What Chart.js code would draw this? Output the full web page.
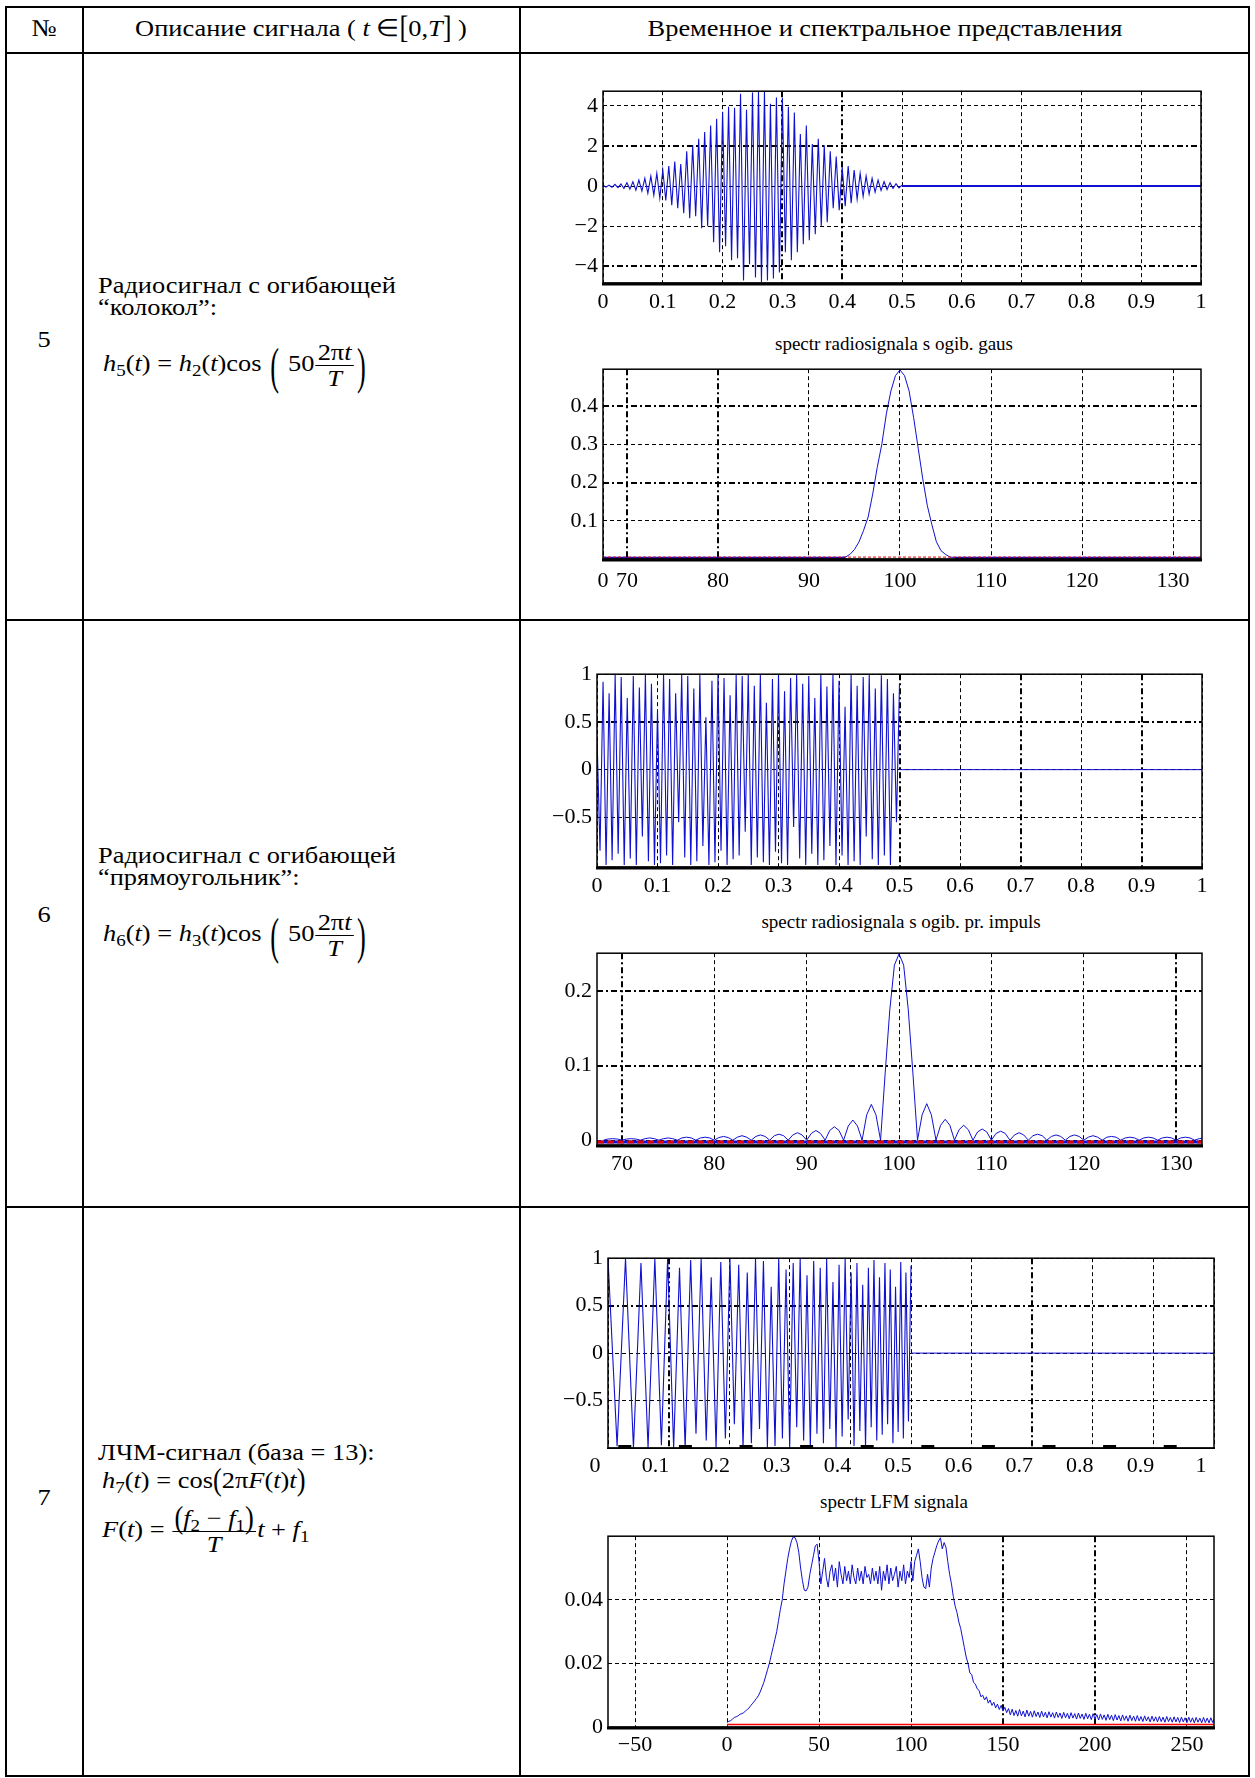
<!DOCTYPE html>
<html><head><meta charset="utf-8">
<script src="https://cdn.jsdelivr.net/npm/chart.js@4.4.0/dist/chart.umd.min.js"></script>
<style>
html,body{margin:0;padding:0;background:#fff;}
body{width:1255px;height:1778px;position:relative;overflow:hidden;font-family:'Liberation Serif','Times New Roman',serif;color:#000;}
.hl{position:absolute;height:2px;background:#000;}
.vl{position:absolute;width:2px;background:#000;}
.t{position:absolute;font-size:24px;white-space:nowrap;line-height:1;transform-origin:0 0;transform:scaleX(1.1);}
.c{transform-origin:50% 0;transform:translateX(-50%) scaleX(1.1);}
canvas{position:absolute;}
.ttl{position:absolute;font-size:19px;white-space:nowrap;transform:translateX(-50%);line-height:1;}
.frac{display:inline-block;vertical-align:middle;text-align:center;margin:0 1px;}
.frac>span{display:block;line-height:24px;}
.frac>.num{border-bottom:1px solid #000;padding:0 2px 1px;}
.bp{display:inline-block;transform:translateY(3px) scaleY(2.1);font-size:24px;margin:0 2px;}
.mp{display:inline-block;transform:scaleY(1.3);}
sub{font-size:0.72em;vertical-align:-0.3em;line-height:0;}
</style>
</head><body>

<!-- table lines -->
<div class="hl" style="left:5px;top:6px;width:1245px"></div>
<div class="hl" style="left:5px;top:52px;width:1245px"></div>
<div class="hl" style="left:5px;top:619px;width:1245px"></div>
<div class="hl" style="left:5px;top:1206px;width:1245px"></div>
<div class="hl" style="left:5px;top:1775px;width:1245px"></div>
<div class="vl" style="left:5px;top:6px;height:1771px"></div>
<div class="vl" style="left:82px;top:6px;height:1771px"></div>
<div class="vl" style="left:519px;top:6px;height:1771px"></div>
<div class="vl" style="left:1248px;top:6px;height:1771px"></div>

<!-- header -->
<div class="t c" style="left:44px;top:16px">№</div>
<div class="t c" style="left:301px;top:16px">Описание сигнала ( <i>t</i> ∈<span class="mp">[</span>0,<i>T</i><span class="mp">]</span> )</div>
<div class="t c" style="left:885px;top:16px">Временное и спектральное представления</div>

<!-- row numbers -->
<div class="t c" style="left:44px;top:327px">5</div>
<div class="t c" style="left:44px;top:902px">6</div>
<div class="t c" style="left:44px;top:1485px">7</div>

<!-- row 5 text -->
<div class="t" style="left:98px;top:273px">Радиосигнал с огибающей</div>
<div class="t" style="left:98px;top:295px">“колокол”:</div>
<div class="t" style="left:103px;top:340px"><i>h</i><sub>5</sub>(<i>t</i>) = <i>h</i><sub>2</sub>(<i>t</i>)cos <span class="bp">(</span> 50<span class="frac"><span class="num">2π<i>t</i></span><span class="den"><i>T</i></span></span><span class="bp">)</span></div>

<!-- row 6 text -->
<div class="t" style="left:98px;top:843px">Радиосигнал с огибающей</div>
<div class="t" style="left:98px;top:865px">“прямоугольник”:</div>
<div class="t" style="left:103px;top:910px"><i>h</i><sub>6</sub>(<i>t</i>) = <i>h</i><sub>3</sub>(<i>t</i>)cos <span class="bp">(</span> 50<span class="frac"><span class="num">2π<i>t</i></span><span class="den"><i>T</i></span></span><span class="bp">)</span></div>

<!-- row 7 text -->
<div class="t" style="left:98px;top:1440px">ЛЧМ-сигнал (база = 13):</div>
<div class="t" style="left:102px;top:1468px"><i>h</i><sub>7</sub>(<i>t</i>) = cos<span class="mp">(</span>2π<i>F</i>(<i>t</i>)<i>t</i><span class="mp">)</span></div>
<div class="t" style="left:102px;top:1506px"><i>F</i>(<i>t</i>) = <span class="frac"><span class="num"><span class="mp">(</span><i>f</i><sub>2</sub> − <i>f</i><sub>1</sub><span class="mp">)</span></span><span class="den"><i>T</i></span></span><i>t</i> + <i>f</i><sub>1</sub></div>

<!-- chart titles -->
<div class="ttl" style="left:894px;top:334px">spectr radiosignala s ogib. gaus</div>
<div class="ttl" style="left:901px;top:912px">spectr radiosignala s ogib. pr. impuls</div>
<div class="ttl" style="left:894px;top:1492px">spectr LFM signala</div>

<canvas id="c5t"></canvas>
<canvas id="c5s"></canvas>
<canvas id="c6t"></canvas>
<canvas id="c6s"></canvas>
<canvas id="c7t"></canvas>
<canvas id="c7s"></canvas>

<script>
// ---------------- DATA ----------------
// Row 5: radio signal with bell envelope (extremes every 0.005 from t=0)
const gaussT0 = 0, gaussDt = 0.005;
const gaussSig = [
  0.04,-0.05,0.05,-0.06,0.09,-0.08,0.11,-0.12,0.17,-0.15,
  0.22,-0.20,0.30,-0.25,0.39,-0.36,0.50,-0.45,0.64,-0.60,
  0.80,-0.72,1.00,-0.95,1.22,-1.10,1.10,-1.35,1.74,-1.60,
  2.04,-1.50,2.36,-2.10,2.69,-2.00,3.02,-2.80,3.35,-3.30,
  3.70,-3.00,3.96,-3.70,3.90,-3.60,4.60,-4.70,3.80,-3.90,
  4.67,-4.55,4.72,-4.80,4.70,-4.70,4.10,-4.60,4.42,-4.30,
  4.40,-3.30,3.96,-3.70,3.67,-3.30,2.60,-2.90,3.02,-2.70,
  2.10,-2.40,2.36,-2.00,2.04,-1.80,1.74,-1.10,1.47,-1.20,
  0.95,-1.00,1.00,-0.85,0.80,-0.65,0.64,-0.52,0.50,-0.40,
  0.39,-0.30,0.30,-0.22,0.22,-0.17,0.17,-0.12,0.12,-0.09,
  0.05
];
const flatX = [0.5, 1];
const flatY = [0, 0];

// Row 5 spectrum
const gaussSpecX0 = 93.5, gaussSpecDx = 0.5;
const gaussSpecY = [0.004,0.005,0.012,0.025,0.045,0.075,0.11,0.17,0.24,0.30,0.38,0.44,0.48,0.495,0.48,0.44,0.37,0.29,0.21,0.14,0.09,0.045,0.022,0.012,0.005,0.004];
const gaussFloorX = [67.37, 94, 94.01, 106, 133.1];
const gaussFloorY = [0.002, 0.002, null, 0.002, 0.002];
const gaussRedX = [67.37, 133.1];
const gaussRedY = [0.005, 0.005];

// Row 6: radio signal with rectangular envelope
const rectT0 = 0, rectDt = 0.005;
const rectSig = [
  0.35,-0.85,0.92,-1,0.8,-0.95,1,-0.88,0.97,-1,
  0.75,-0.93,0.98,-1,0.86,-0.7,1,-0.96,0.9,-1,
  0.62,-0.98,1,-0.9,0.95,-1,0.8,-0.55,1,-0.92,
  0.98,-1,0.85,-0.96,1,-0.8,0.55,-1,0.93,-0.97,
  1,-0.85,0.96,-1,0.78,-0.94,1,-0.9,0.98,-0.65,
  1,-1,0.88,-0.92,1,-0.97,0.7,-1,0.95,-0.86,
  1,-0.98,0.82,-1,0.96,-0.6,1,-0.93,0.9,-1,
  0.98,-0.88,0.75,-1,1,-0.95,0.87,-0.8,1,-1,
  0.93,-0.9,0.66,-1,1,-0.96,0.88,-1,0.97,-0.7,
  1,-0.94,0.85,-1,0.99,-0.9,0.95,-1,0.8,-0.55,
  0.9
];

// Row 6 spectrum (sample step 0.5 from 68)
const sincX0 = 68, sincDx = 0.5;
const sincY = [
  0,.0015,.002,.0015, 0,.0015,.002,.0015, 0,.002,.003,.002, 0,.002,.003,.002,
  0,.003,.004,.003, 0,.003,.004,.003, 0,.0035,.005,.0035, 0,.004,.006,.004,
  0,.005,.007,.005, 0,.006,.008,.006, 0,.007,.010,.007, 0,.009,.013,.009,
  0,.013,.018,.013, 0,.019,.027,.019, 0,.034,.048,.034, 0,.09,.175,.235,
  .25,.235,.175,.09, 0,.034,.049,.034, 0,.02,.028,.02, 0,.014,.02,.014,
  0,.011,.015,.011, 0,.009,.012,.009, 0,.007,.01,.007, 0,.006,.008,.006,
  0,.005,.007,.005, 0,.005,.007,.005, 0,.004,.006,.004, 0,.004,.005,.004,
  0,.003,.004,.003, 0,.003,.004,.003, 0,.003,.004,.003, 0,.003,.004,.003,
  0,.002,.003
];
const sincBaseX = [67.3, 132.8];
const sincBaseY = [-0.0025, -0.0025];

// Row 7: LFM signal, extreme instants and values
const lfmT = [0,.0150,.0289,.0420,.0544,.0661,.0773,.0881,.0984,.1083,.1180,
  .1273,.1364,.1452,.1537,.1621,.1703,.1783,.1861,.1937,.2012,.2085,
  .2157,.2228,.2298,.2366,.2434,.2500,.2565,.2630,.2693,.2756,.2817,
  .2878,.2938,.2998,.3056,.3114,.3171,.3228,.3284,.3339,.3394,.3448,
  .3502,.3555,.3608,.3660,.3712,.3763,.3813,.3864,.3913,.3963,.4012,
  .4060,.4108,.4156,.4203,.4250,.4297,.4343,.4389,.4435,.4480,.4525,
  .4570,.4614,.4658,.4702,.4745,.4788,.4831,.4874,.4916,.4958,.5000];
const lfmA = [1,-0.98,1,-1,0.95,-1,1,-0.97,1,-1,0.9,
  -1,0.98,-0.85,1,-0.92,0.8,-1,0.96,-0.9,1,-0.75,
  0.93,-1,0.85,-0.95,1,-0.8,0.97,-1,0.7,-0.98,1,
  -0.9,0.88,-1,0.95,-0.78,1,-0.92,0.82,-1,0.97,-0.85,
  0.9,-0.95,1,-0.8,0.75,-1,0.93,-0.88,1,-0.7,0.85,
  -0.98,0.95,-0.82,0.72,-1,0.9,-0.78,0.98,-0.92,0.8,-0.86,
  0.95,-0.75,0.88,-0.95,0.7,-0.83,0.96,-0.9,0.85,-0.72,0.92];
const lfmMarkX = [0.017, 1];
const lfmMarkY = [-0.985, -0.985];

// Row 7 spectrum (step 1 from 0)
const lfmSpecX0 = 0, lfmSpecDx = 1;
const lfmSpec = [
  .0015,.0018,.002,.0025,.003,.0032,.0035,.004,.0042,.0045,
  .005,.0055,.006,.0068,.0075,.0082,.009,.0098,.011,.0125,
  .014,.016,.018,.020,.0225,.025,.0275,.030,.0335,.037,
  .040,.045,.049,.053,.056,.0585,.0598,.0595,.058,.055,
  .050,.046,.043,.0428,.044,.048,.051,.054,.057,.0575,
  .052,.045,.049,.053,.047,.044,.049,.051,.046,.050,
  .044,.052,.048,.045,.0505,.046,.049,.045,.051,.047,
  .045,.050,.046,.049,.045,.0505,.047,.048,.045,.050,
  .046,.049,.045,.0505,.043,.049,.046,.051,.045,.050,
  .046,.048,.0505,.044,.049,.046,.051,.045,.049,.047,
  .052,.046,.052,.054,.056,.052,.047,.044,.0435,.048,
  .044,.050,.053,.055,.057,.0585,.0595,.056,.058,.0565,
  .052,.048,.045,.041,.038,.036,.033,.031,.028,.025,
  .022,.020,.017,.0165,.014,.0135,.012,.0115,.0095,.010,
  .0085,.0095,.0075,.0085,.0068,.0078,.006,.0072,.0055,.0068,
  .005,.0062,.0045,.0058,.0038,.0056,.0036,.0052,.0034,.0055,
  .0035,.005,.0032,.0053,.0034,.0049,.0031,.0051,.0033,.0047,
  .003,.005,.0032,.0046,.0029,.0048,.0031,.0045,.0028,.0047,
  .003,.0044,.0027,.0046,.0029,.0043,.0026,.0045,.0028,.0042,
  .0025,.0044,.0027,.0041,.0024,.0043,.0026,.004,.0023,.0042,
  .0025,.0039,.0022,.0041,.0024,.0038,.0021,.004,.0023,.0037,
  .002,.0039,.0022,.0036,.0019,.0038,.0021,.0035,.0018,.0037,
  .002,.0034,.0018,.0036,.0019,.0033,.0017,.0035,.0019,.0032,
  .0016,.0034,.0018,.0032,.0016,.0033,.0017,.0031,.0015,.0033,
  .0017,.003,.0015,.0032,.0016,.003,.0014,.0031,.0016,.0029,
  .0014,.0031,.0015,.0029,.0013,.003,.0015,.0028,.0013,.003,
  .0014,.0028,.0013,.0029,.0014,.0028
];
const lfmRedX = [0, 265];
const lfmRedY = [0.0008, 0.0008];

// Tick values and labels
const tTicks = [0,0.1,0.2,0.3,0.4,0.5,0.6,0.7,0.8,0.9,1];
const tLabels = ['0','0.1','0.2','0.3','0.4','0.5','0.6','0.7','0.8','0.9','1'];
const y5tTicks = [-4,-2,0,2,4];
const y5tLabels = ['\u22124','\u22122','0','2','4'];
const f5Ticks = [67.37,70,80,90,100,110,120,130];
const f5Labels = ['0','70','80','90','100','110','120','130'];
const y5sTicks = [0.1,0.2,0.3,0.4];
const y5sLabels = ['0.1','0.2','0.3','0.4'];
const yUnitTicks = [-0.5,0,0.5,1];
const yUnitLabels = ['\u22120.5','0','0.5','1'];
const f6Ticks = [70,80,90,100,110,120,130];
const f6Labels = ['70','80','90','100','110','120','130'];
const y6sTicks = [0,0.1,0.2];
const y6sLabels = ['0','0.1','0.2'];
const f7Ticks = [-50,0,50,100,150,200,250];
const f7Labels = ['\u221250','0','50','100','150','200','250'];
const y7sTicks = [0,0.02,0.04];
const y7sLabels = ['0','0.02','0.04'];

// ---------------- helpers ----------------
const BLUE = '#1010d0';
const grid = (x0, dx, ys) => ys.map((y, i) => ({ x: x0 + i * dx, y }));
const pairs = (xs, ys) => xs.map((x, i) => ({ x, y: ys[i] }));

const boxPlugin = {
  id: 'box',
  afterDatasetsDraw(chart, args, o) {
    const { ctx, chartArea: a } = chart;
    ctx.save();
    ctx.setLineDash([]);
    ctx.strokeStyle = '#000';
    ctx.lineWidth = 1.5;
    ctx.strokeRect(a.left, a.top, a.right - a.left, a.bottom - a.top);
    const bw = o.bottomWidth || 1.5;
    ctx.lineWidth = bw;
    ctx.beginPath();
    ctx.moveTo(a.left - 1, a.bottom + (bw - 1) / 2);
    ctx.lineTo(a.right + 1, a.bottom + (bw - 1) / 2);
    ctx.stroke();
    ctx.restore();
  }
};

function axis(dir, a, size) {
  const bold = ctx => ctx.tick && a.bold && a.bold.some(b => Math.abs(b - ctx.tick.value) < 1e-9);
  return {
    type: 'linear', min: a.min, max: a.max,
    afterBuildTicks: s => { s.ticks = a.ticks.map(v => ({ value: v })); },
    afterFit: s => { if (dir === 'x') s.height = size; else s.width = size; },
    ticks: {
      autoSkip: false, maxRotation: 0, minRotation: 0, color: '#000',
      font: { family: 'Liberation Serif', size: 22 },
      padding: a.pad !== undefined ? a.pad : 6,
      labelOffset: a.labelOffset || 0,
      callback: (v, i) => a.labels[i]
    },
    grid: { color: '#000', drawTicks: false, lineWidth: ctx => bold(ctx) ? 2 : 1 },
    border: { display: false, dash: ctx => bold(ctx) ? [6, 3, 2, 3] : [4, 3] }
  };
}

function makeChart(id, rect, cfg) {
  const padL = 90, padT = 14, padR = 30, padB = 46;
  const cv = document.getElementById(id);
  const w = rect.r - rect.l + padL + padR, h = rect.b - rect.t + padT + padB;
  cv.style.left = (rect.l - padL) + 'px';
  cv.style.top = (rect.t - padT) + 'px';
  cv.style.width = w + 'px'; cv.style.height = h + 'px';
  cv.width = w; cv.height = h;
  return new Chart(cv, {
    type: 'line',
    data: { datasets: cfg.datasets },
    options: {
      responsive: false, animation: false, devicePixelRatio: 1,
      layout: { padding: { left: 0, top: padT, right: padR, bottom: 0 } },
      plugins: { legend: { display: false }, tooltip: { enabled: false }, box: { bottomWidth: cfg.bottomWidth } },
      elements: { point: { radius: 0 }, line: { tension: 0, borderJoinStyle: 'miter' } },
      scales: { x: axis('x', cfg.x, padB), y: axis('y', cfg.y, padL) }
    },
    plugins: [boxPlugin]
  });
}

const ds = (data, color, width, dash) => ({
  data, borderColor: color, borderWidth: width, borderDash: dash || [], pointRadius: 0, fill: false, spanGaps: false
});

// ---------------- charts ----------------
makeChart('c5t', { l: 603, r: 1201, t: 87, b: 283 }, {
  bottomWidth: 3,
  x: { min: 0, max: 1, ticks: tTicks, labels: tLabels, bold: [0.3, 0.4], pad: 6 },
  y: { min: -4.83, max: 4.73, ticks: y5tTicks, labels: y5tLabels, bold: [2, -4], pad: 5 },
  datasets: [
    ds(grid(gaussT0, gaussDt, gaussSig), BLUE, 1.1),
    ds(pairs(flatX, flatY), BLUE, 2)
  ]
});

makeChart('c5s', { l: 603, r: 1201, t: 365, b: 559 }, {
  bottomWidth: 3,
  x: { min: 67.37, max: 133.07, ticks: f5Ticks, labels: f5Labels, bold: [70, 80], pad: 9 },
  y: { min: 0, max: 0.497, ticks: y5sTicks, labels: y5sLabels, bold: [0.4, 0.2], pad: 5 },
  datasets: [
    ds(pairs(gaussRedX, gaussRedY), '#e00000', 1, [3, 2]),
    ds(grid(gaussSpecX0, gaussSpecDx, gaussSpecY), BLUE, 1),
    ds(pairs(gaussFloorX, gaussFloorY), BLUE, 3)
  ]
});

makeChart('c6t', { l: 597, r: 1202, t: 670, b: 867 }, {
  bottomWidth: 3,
  x: { min: 0, max: 1, ticks: tTicks, labels: tLabels, bold: [0.5, 0.7, 0.9], pad: 6 },
  y: { min: -1.02, max: 1, ticks: yUnitTicks, labels: yUnitLabels, bold: [0.5], pad: 5 },
  datasets: [
    ds(grid(rectT0, rectDt, rectSig), BLUE, 1.1),
    ds(pairs(flatX, flatY), BLUE, 1)
  ]
});

makeChart('c6s', { l: 597, r: 1202, t: 949, b: 1145 }, {
  bottomWidth: 3,
  x: { min: 67.3, max: 132.8, ticks: f6Ticks, labels: f6Labels, bold: [70, 130], pad: 6 },
  y: { min: -0.0065, max: 0.251, ticks: y6sTicks, labels: y6sLabels, bold: [0.2, 0.1], pad: 5 },
  datasets: [
    ds(pairs(sincBaseX, sincBaseY), '#e00000', 3, [7, 3]),
    ds(grid(sincX0, sincDx, sincY), BLUE, 1),
    ds(pairs(sincBaseX, sincBaseY), BLUE, 3)
  ]
});

makeChart('c7t', { l: 608, r: 1214, t: 1254, b: 1448 }, {
  bottomWidth: 1.5,
  x: { min: 0, max: 1, ticks: tTicks, labels: tLabels, bold: [0.7, 0.1], pad: 5, labelOffset: -13 },
  y: { min: -1, max: 1, ticks: yUnitTicks, labels: yUnitLabels, bold: [0.5], pad: 5 },
  datasets: [
    ds(pairs(lfmMarkX, lfmMarkY), '#000', 3, [13, 47.6]),
    ds(pairs(lfmT, lfmA), BLUE, 1.1),
    ds(pairs(flatX, flatY), BLUE, 1)
  ]
});

makeChart('c7s', { l: 608, r: 1214, t: 1532, b: 1727 }, {
  bottomWidth: 3,
  x: { min: -64.7, max: 264.7, ticks: f7Ticks, labels: f7Labels, bold: [150, 200], pad: 5 },
  y: { min: 0, max: 0.06, ticks: y7sTicks, labels: y7sLabels, bold: [], pad: 5 },
  datasets: [
    ds(grid(lfmSpecX0, lfmSpecDx, lfmSpec), BLUE, 1),
    ds(pairs(lfmRedX, lfmRedY), '#ff0000', 1.5)
  ]
});
</script>
</body></html>
